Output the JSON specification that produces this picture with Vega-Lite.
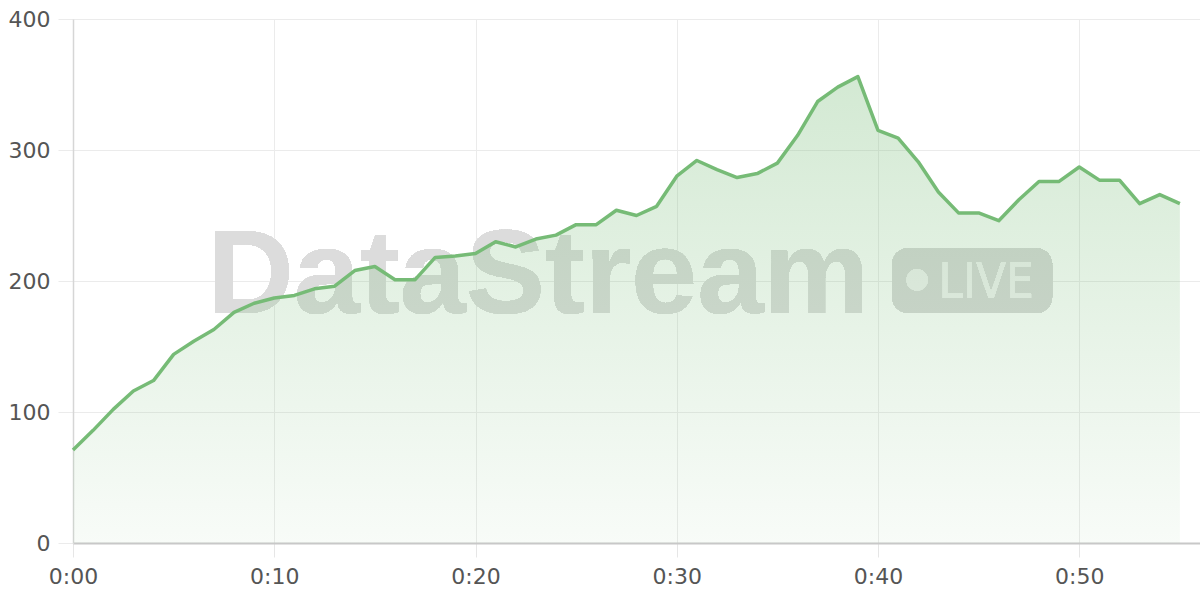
{
  "$schema": "https://vega.github.io/schema/vega-lite/v6.json",
  "width": 1127,
  "height": 524,
  "autosize": "none",
  "padding": {"left": 73, "top": 19, "right": 0, "bottom": 57},
  "background": "white",
  "config": {"view": {"stroke": null}},
  "data": {"values": [
    {"t": 0, "v": 71}, {"t": 1, "v": 86}, {"t": 2, "v": 102}, {"t": 3, "v": 116}, {"t": 4, "v": 124},
    {"t": 5, "v": 144}, {"t": 6, "v": 154}, {"t": 7, "v": 163}, {"t": 8, "v": 176}, {"t": 9, "v": 183},
    {"t": 10, "v": 187}, {"t": 11, "v": 189}, {"t": 12, "v": 194}, {"t": 13, "v": 196}, {"t": 14, "v": 208},
    {"t": 15, "v": 211}, {"t": 16, "v": 201}, {"t": 17, "v": 201}, {"t": 18, "v": 218}, {"t": 19, "v": 219},
    {"t": 20, "v": 221}, {"t": 21, "v": 230}, {"t": 22, "v": 226}, {"t": 23, "v": 232}, {"t": 24, "v": 235},
    {"t": 25, "v": 243}, {"t": 26, "v": 243}, {"t": 27, "v": 254}, {"t": 28, "v": 250}, {"t": 29, "v": 257},
    {"t": 30, "v": 280}, {"t": 31, "v": 292}, {"t": 32, "v": 285}, {"t": 33, "v": 279}, {"t": 34, "v": 282},
    {"t": 35, "v": 290}, {"t": 36, "v": 311}, {"t": 37, "v": 337}, {"t": 38, "v": 348}, {"t": 39, "v": 356},
    {"t": 40, "v": 315}, {"t": 41, "v": 309}, {"t": 42, "v": 291}, {"t": 43, "v": 268}, {"t": 44, "v": 252},
    {"t": 45, "v": 252}, {"t": 46, "v": 246}, {"t": 47, "v": 262}, {"t": 48, "v": 276}, {"t": 49, "v": 276},
    {"t": 50, "v": 287}, {"t": 51, "v": 277}, {"t": 52, "v": 277}, {"t": 53, "v": 259}, {"t": 54, "v": 266},
    {"t": 55, "v": 259}
  ]},
  "encoding": {
    "x": {
      "field": "t", "type": "quantitative",
      "scale": {"domain": [0, 56], "nice": false, "zero": false},
      "axis": {
        "title": null, "values": [0, 10, 20, 30, 40, 50],
        "labelExpr": "'0:' + (datum.value < 10 ? '0' : '') + datum.value",
        "grid": true, "gridColor": "#ebebeb", "gridWidth": 1,
        "domain": true, "domainColor": "#c8c8c8", "domainWidth": 2,
        "ticks": true, "tickSize": 14, "tickColor": "#e6e6e6",
        "labelFont": "DejaVu Sans", "labelFontSize": 22, "labelColor": "#555555",
        "labelPadding": 9, "labelFlush": false
      }
    },
    "y": {
      "field": "v", "type": "quantitative",
      "scale": {"domain": [0, 400], "nice": false},
      "axis": {
        "title": null, "values": [0, 100, 200, 300, 400],
        "grid": true, "gridColor": "#ebebeb", "gridWidth": 1,
        "domain": true, "domainColor": "#d6d6d6", "domainWidth": 1.5,
        "ticks": true, "tickSize": 15, "tickColor": "#ebebeb",
        "labelFont": "DejaVu Sans", "labelFontSize": 22, "labelColor": "#555555",
        "labelPadding": 8
      }
    }
  },
  "layer": [
    {
      "mark": {"type": "text", "text": "DataStream", "font": "Liberation Sans", "fontWeight": "bold", "fontSize": 119, "align": "left", "baseline": "alphabetic", "fill": "#dcdcdc"},
      "encoding": {"x": {"datum": 6.7}, "y": {"datum": 175.6}}
    },
    {
      "mark": {"type": "rect", "cornerRadius": 16, "fill": "#d8d8d8"},
      "encoding": {"x": {"datum": 40.7}, "x2": {"datum": 48.65}, "y": {"datum": 225}, "y2": {"datum": 175.6}}
    },
    {
      "mark": {"type": "point", "filled": true, "shape": "circle", "size": 450, "fill": "#f2f2f2", "strokeWidth": 0, "opacity": 1},
      "encoding": {"x": {"datum": 41.94}, "y": {"datum": 200.8}}
    },
    {
      "mark": {"type": "text", "text": "LIVE", "font": "DejaVu Sans Condensed", "fontSize": 49, "align": "left", "baseline": "alphabetic", "fill": "#f2f2f2"},
      "encoding": {"x": {"datum": 43.0}, "y": {"datum": 187}}
    },
    {
      "mark": {
        "type": "area",
        "color": {
          "gradient": "linear", "x1": 1, "y1": 1, "x2": 1, "y2": 0,
          "stops": [
            {"offset": 0, "color": "rgba(118,187,118,0.05)"},
            {"offset": 1, "color": "rgba(118,187,118,0.32)"}
          ]
        }
      }
    },
    {
      "mark": {"type": "line", "color": "#76bb76", "strokeWidth": 3.5, "strokeJoin": "round"}
    }
  ]
}
